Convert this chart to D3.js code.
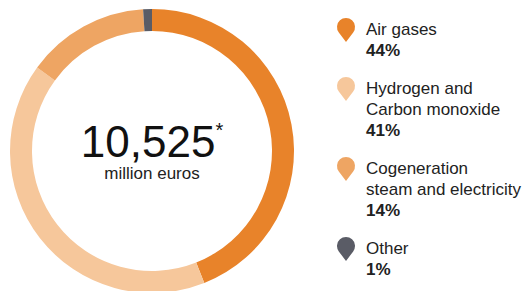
<!DOCTYPE html>
<html>
<head>
<meta charset="utf-8">
<script src="https://cdn.jsdelivr.net/npm/d3@7"></script>
<style>
    html, body { margin: 0; padding: 0; background: #fff; }
    svg { display: block; font-family: "Liberation Sans", Arial, sans-serif; }
</style>
</head>
<body>
<svg id="chart" width="531" height="291"></svg>
<script>
// segments, clockwise from 12 o'clock
const categories = ["Air gases", "Hydrogen and Carbon monoxide", "Cogeneration steam and electricity", "Other"];
const shares = [44, 41, 14, 1];
const colors = ["#E8832A", "#F6C79B", "#EEA563", "#5A5C66"];
// legend text, broken the way the picture breaks it
const legendLines = [["Air gases"], ["Hydrogen and", "Carbon monoxide"], ["Cogeneration", "steam and electricity"], ["Other"]];
const totalLabel = "10,525";
const totalUnit = "million euros";

const svg = d3.select("#chart");

const cx = 152, cy = 151;
const outerR = 142, innerR = 120;

const pie = d3.pie().sort(null).value(d => d.value);
const arc = d3.arc().innerRadius(innerR).outerRadius(outerR);

const data = categories.map((c, i) => ({name: c, value: shares[i], color: colors[i]}));

const donut = svg.append("g").attr("transform", `translate(${cx},${cy})`);

donut.selectAll("path")
    .data(pie(data))
    .join("path")
    .attr("d", arc)
    .attr("fill", d => d.data.color);

// total in the middle
const total = donut.append("text")
    .attr("text-anchor", "middle")
    .attr("y", 6)
    .attr("fill", "#111")
    .style("font-size", "44px");
total.append("tspan").text(totalLabel);
total.append("tspan")
    .attr("dy", -20)
    .style("font-size", "20px")
    .text("*");

donut.append("text")
    .attr("text-anchor", "middle")
    .attr("y", 28)
    .attr("fill", "#222")
    .style("font-size", "17px")
    .text(totalUnit);

// legend
const lineH = 21;
const legendX = 346, textX = 366;
const blockGap = 38;
let y = 35;

const pin = (r, tip) => {
    // circle with a point at the bottom
    const a = Math.acos(r / tip);
    const x0 = r * Math.sin(a), y0 = r * Math.cos(a);
    return `M${-x0},${y0} A${r},${r} 0 1 1 ${x0},${y0} L0,${tip} Z`;
};

data.forEach((d, i) => {
    const g = svg.append("g");
    g.append("path")
        .attr("transform", `translate(${legendX},${y - 8})`)
        .attr("d", pin(9, 15))
        .attr("fill", d.color);

    const t = g.append("text")
        .attr("x", textX)
        .attr("y", y)
        .attr("fill", "#222")
        .style("font-size", "17px");
    legendLines[i].forEach((line, j) => {
        t.append("tspan").attr("x", textX).attr("dy", j === 0 ? 0 : lineH).text(line);
    });
    t.append("tspan")
        .attr("x", textX)
        .attr("dy", lineH)
        .style("font-weight", "bold")
        .text(shares[i] + "%");

    y += lineH * legendLines[i].length + blockGap;
});
</script>
</body>
</html>
